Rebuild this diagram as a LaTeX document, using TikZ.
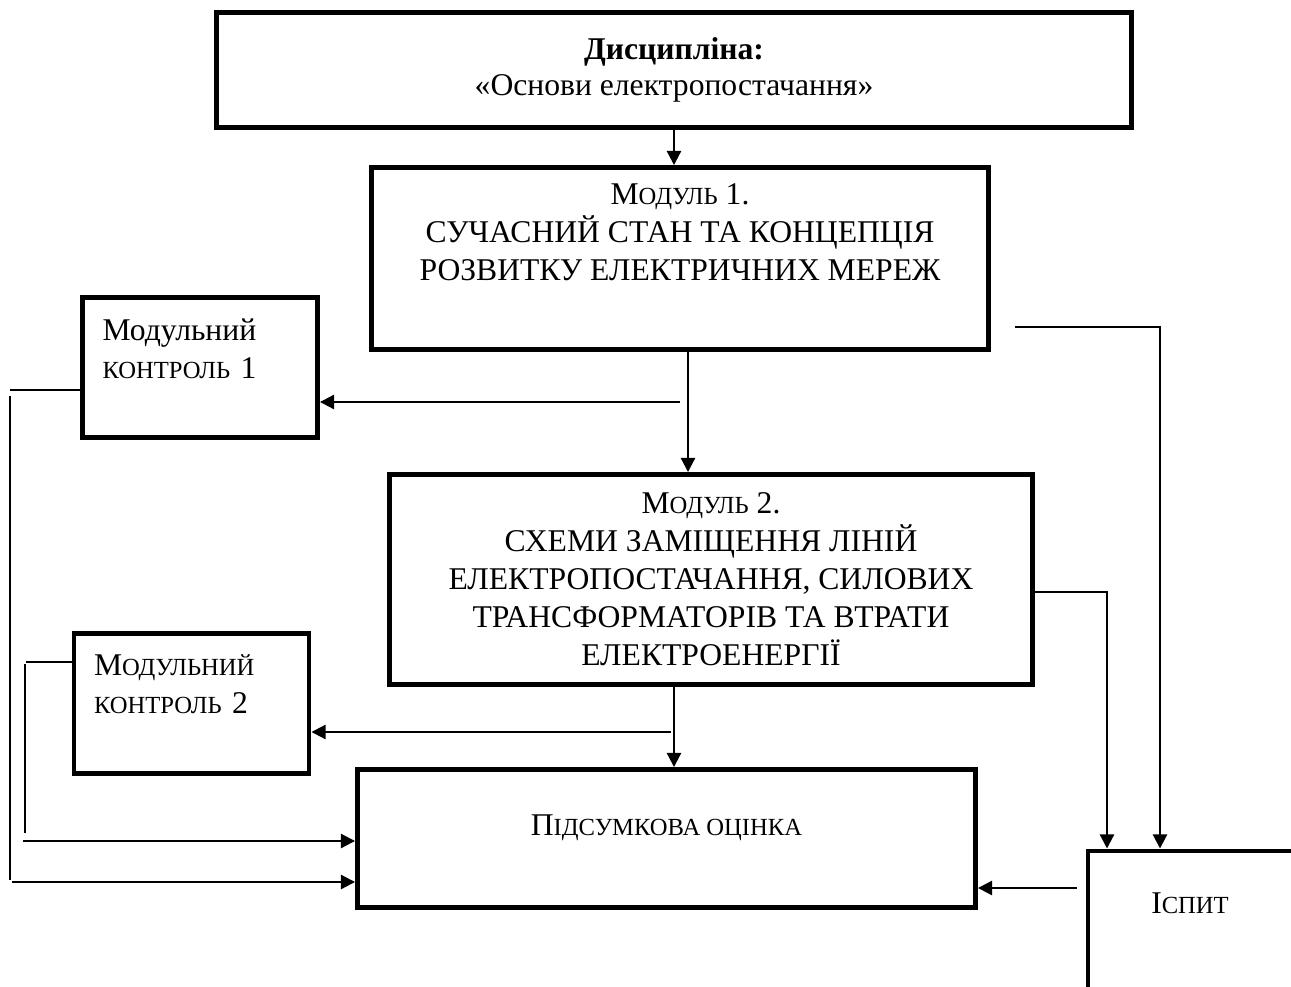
\documentclass[tikz,border=0pt]{standalone}
\usepackage{fontspec}
\setmainfont{Liberation Serif}
\usetikzlibrary{arrows.meta,positioning,calc}
\newcommand{\smcap}{\fontsize{14}{21.6}\selectfont}
\tikzset{
  blockbox/.style={
    draw=black, line width=2.8pt, align=center,
    font=\fontsize{18}{21.6}\selectfont, inner sep=4pt
  },
  ctrlbox/.style={
    draw=black, line width=2.8pt, align=left,
    text width=3.9cm, inner xsep=0.4cm, minimum height=2.8cm,
    font=\fontsize{18}{21.6}\selectfont
  },
  conn/.style={draw=black, line width=1.2pt},
  arr/.style={conn, -{Triangle[length=8pt,width=8pt]}}
}

\begin{document}
\begin{tikzpicture}
  \useasboundingbox (0,0) rectangle (25.82,-19.74);
  \clip (0,0) rectangle (25.82,-19.74);

  % blocks
  \node[blockbox, minimum width=18.3cm, minimum height=2.3cm,
        font=\fontsize{18}{20.5}\selectfont] (disc) at (13.48,-1.40)
    {{\bfseries Дисципліна:}\\«Основи електропостачання»};
  \node[blockbox, minimum width=12.34cm, minimum height=3.64cm] (mod1) at (13.60,-5.17)
    {М{\smcap ОДУЛЬ} 1.\\СУЧАСНИЙ СТАН ТА КОНЦЕПЦІЯ\\РОЗВИТКУ ЕЛЕКТРИЧНИХ МЕРЕЖ\\[8pt]\mbox{}};
  \node[blockbox, minimum width=12.86cm, minimum height=4.2cm] (mod2) at (14.22,-11.59)
    {М{\smcap ОДУЛЬ} 2.\\СХЕМИ ЗАМІЩЕННЯ ЛІНІЙ\\ЕЛЕКТРОПОСТАЧАННЯ, СИЛОВИХ\\ТРАНСФОРМАТОРІВ ТА ВТРАТИ\\ЕЛЕКТРОЕНЕРГІЇ};
  \node[ctrlbox] (mk1) at (4.00,-7.35)
    {Модульний\\{\smcap КОНТРОЛЬ} 1\\\mbox{}};
  \node[ctrlbox] (mk2) at (3.83,-14.07)
    {М{\smcap ОДУЛЬНИЙ}\\{\smcap КОНТРОЛЬ} 2\\\mbox{}};
  \node[blockbox, minimum width=12.36cm, minimum height=2.76cm] (final) at (13.33,-16.77)
    {П{\smcap ІДСУМКОВА ОЦІНКА}\\[-6pt]\mbox{}};
  \node[blockbox, anchor=north west, minimum width=6cm, minimum height=6cm] (exam)
    at (21.71,-16.97) {};
  \node[font=\fontsize{18}{21.6}\selectfont] (examtxt) at (23.80,-18.06) {І{\smcap СПИТ}};

  % main chain
  \draw[arr] (disc.south) -- (disc.south |- mod1.north);
  \coordinate (m1out) at ([xshift=0.16cm]mod1.south);
  \draw[arr] (m1out) -- (m1out |- mod2.north);
  \coordinate (m2out) at ([xshift=-0.74cm]mod2.south);
  \draw[arr] (m2out) -- (m2out |- final.north);

  % to the control boxes
  \coordinate (k1) at (13.60,-8.04);
  \draw[arr] (k1) -- (k1 -| mk1.east);
  \coordinate (k2) at (13.42,-14.64);
  \draw[arr] (k2) -- (k2 -| mk2.east);

  % to the exam
  \coordinate (e1) at (20.30,-6.54);
  \coordinate (x1) at (23.20,-6.54);
  \draw[arr] (e1) -- (x1) -- (x1 |- exam.north);
  \coordinate (x2) at (22.14,-11.84);
  \draw[arr] (x2 -| mod2.east) -- (x2) -- (x2 |- exam.north);
  \coordinate (e3) at (21.54,-17.76);
  \draw[arr] (e3) -- (e3 -| final.east);

  % control results to the final mark
  \coordinate (w1) at (0.20,-7.80);
  \draw[conn] (w1 -| mk1.west) -- (w1);
  \coordinate (w1b) at (0.20,-7.92);
  \coordinate (w1c) at (0.24,-17.64);
  \draw[conn] (w1b) -- (0.20,-17.60);
  \draw[arr] (w1c) -- (w1c -| final.west);

  \coordinate (w2) at (0.52,-13.24);
  \draw[conn] (w2 -| mk2.west) -- (w2);
  \coordinate (w2b) at (0.50,-13.28);
  \coordinate (w2c) at (0.46,-16.82);
  \draw[conn] (w2b) -- (0.50,-16.66);
  \draw[arr] (w2c) -- (w2c -| final.west);
\end{tikzpicture}
\end{document}
